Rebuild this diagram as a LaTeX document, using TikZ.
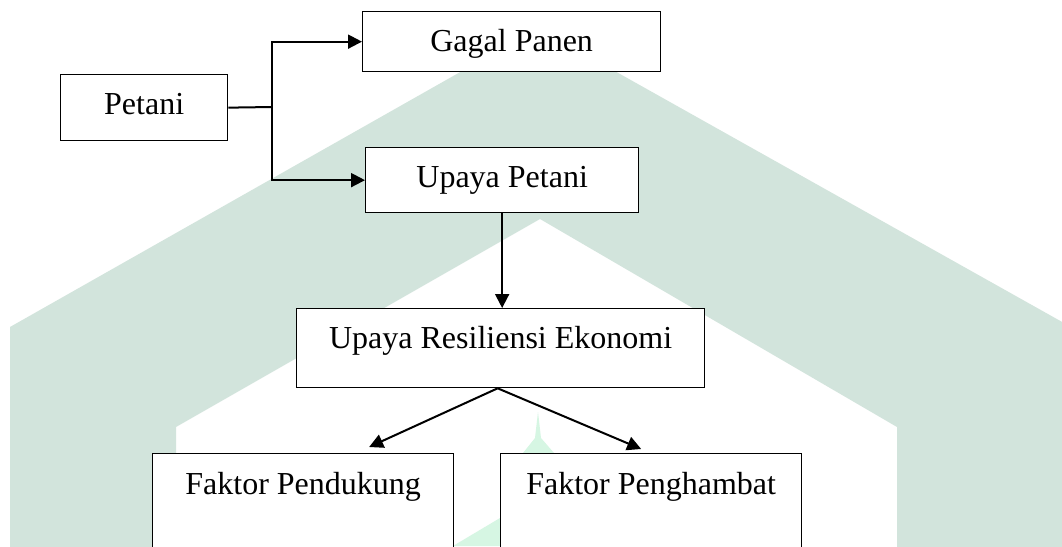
\documentclass[tikz,border=0pt]{standalone}
\usepackage{fontspec}
\setmainfont{Liberation Serif}
\usetikzlibrary{arrows.meta}
\definecolor{wmgreen}{HTML}{D2E4DC}
\definecolor{wmmint}{HTML}{D6F6E3}
\tikzset{
  framebox/.style={
    draw=black,
    fill=white,
    line width=1.3pt,
    inner sep=0pt,
    anchor=north west,
    align=center,
    font=\fontsize{32}{38}\selectfont
  },
  flowline/.style={line width=2pt, draw=black},
  flowarrow/.style={-{Triangle[length=14pt,width=14pt]}, line width=2pt, draw=black},
  watermark/.style={fill=wmgreen, draw=none},
  spire/.style={fill=wmmint, draw=none}
}

\begin{document}
\begin{tikzpicture}[x=1pt,y=-1pt]
\clip (0,0) rectangle (1062,546);
\fill[white] (0,0) rectangle (1062,546);

\fill[watermark] (10,560) -- (10,327) -- (538,28) -- (1080,332) -- (1080,560)
  -- (897,560) -- (897,427) -- (540,219) -- (176,427) -- (176,560) -- cycle;
\fill[spire] (538,412) -- (541,438) -- (554,453) -- (523,453) -- (535,438) -- cycle;
\fill[spire] (453,546) -- (500,518) -- (500,546) -- cycle;

\node[framebox, minimum width=298pt, text height=40pt, text depth=20pt] (gagal) at (362,11) {Gagal Panen};
\node[framebox, minimum width=167pt, text height=40pt, text depth=26pt] (petani) at (60,74) {Petani};
\node[framebox, minimum width=273pt, text height=40pt, text depth=25pt] (upaya) at (365,147) {Upaya Petani};
\node[framebox, minimum width=408pt, text height=40pt, text depth=39pt] (resil) at (296,308) {Upaya Resiliensi Ekonomi};
\node[framebox, minimum width=301pt, text height=41pt, text depth=110pt] (dukung) at (152,453) {Faktor Pendukung};
\node[framebox, minimum width=301pt, text height=41pt, text depth=110pt] (hambat) at (500,453) {Faktor Penghambat};

\coordinate (fork) at (272,107);
\draw[flowline] (petani.east) -- (fork);
\draw[flowarrow] (fork) |- (gagal.west);
\draw[flowarrow] (fork) |- (upaya.west);
\draw[flowarrow] (upaya.south) -- (upaya.south |- resil.north);
\draw[flowarrow] ([xshift=-3pt]resil.south) -- ([xshift=66pt,yshift=6pt]dukung.north);
\draw[flowarrow] ([xshift=-3pt]resil.south) -- ([xshift=-10pt,yshift=4pt]hambat.north);
\end{tikzpicture}
\end{document}
